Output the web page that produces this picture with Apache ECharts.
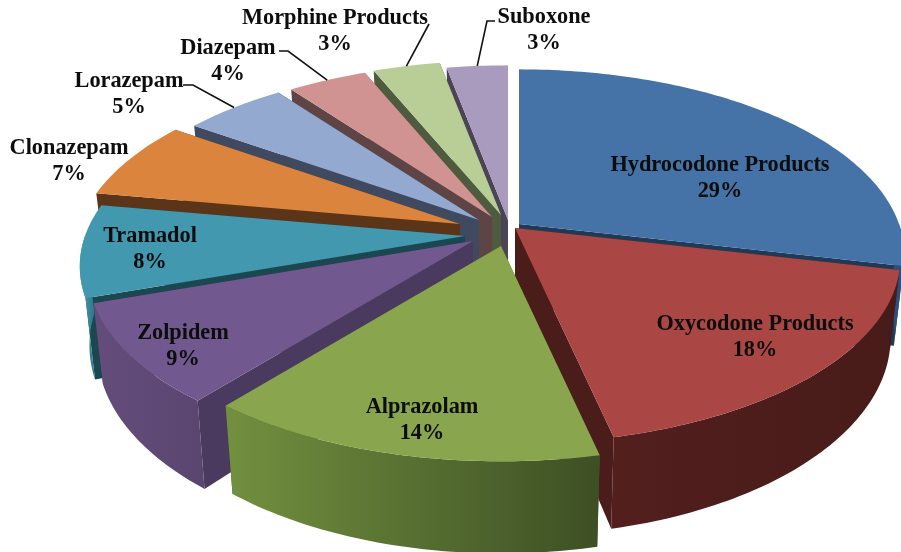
<!DOCTYPE html>
<html>
<head>
<meta charset="utf-8">
<style>html,body{margin:0;padding:0;background:#fff}#c{width:901px;height:552px}</style>
<script src="https://cdn.jsdelivr.net/npm/echarts@6/dist/echarts.min.js"></script>
</head>
<body>
<div id="c"></div>
<script>
// Data (percent shares; labels show them rounded)
const categories = ['Hydrocodone Products','Oxycodone Products','Alprazolam','Zolpidem','Tramadol','Clonazepam','Lorazepam','Diazepam','Morphine Products','Suboxone'];
const values = [28.6,17.9,14.4,8.8,8.1,6.9,5.1,3.9,3.3,3.0];

// Style
const topColors  = ['#4572A7','#AA4643','#89A54E','#71588F','#4198AF','#DB843D','#93A9CF','#D19392','#B9CD96','#A99BBD'];
const cutColors  = ['#1F3A57','#4A1C1A','#4A5C2A','#4B3A60','#1B4751','#5C3417','#3F4A60','#5E4444','#4F5B3E','#4A4456'];
const wallLeft   = ['#2D4F7C','#521F1D','#72903F','#644D7C','#46A0B8','#8A5326','#5B6B85','#8A5E5D','#73825D','#6B6278'];
const wallRight  = ['#2D4F7C','#471B19','#3D4F24','#5A4570','#2F7488','#8A5326','#5B6B85','#8A5E5D','#73825D','#6B6278'];

// Layout: painter's order, the shift of each exploded slice, and label placement
const drawOrder = [9,8,7,6,5,4,3,0,1,2];
const sliceShift = [[519,224],[515,228],[501,246],[473,241],[465,236],[460,224],[479,220],[492,217],[501,215],[508,220]];
const labelPos = [[720,163],[755,322],[422,405],[183,331],[150,234],[69,146],[129,79],[228,46],[335,16],[544,15]];
const leaderElbows = {6:[[183,85],[193,85]],7:[[279,51],[288,51]],8:[[429,24]],9:[[495,21],[487,21]]};
const R = 380, RK = 180, PERSP = 0.164, DEPTH = 77, SHRINK = 0.975, LINE_H = 26, TEXT_DY = 2;
const HALF_PI = Math.PI/2;

const total = values.reduce((a,b)=>a+b,0);
const starts = []; values.reduce((acc,v,i)=>{starts[i]=acc;return acc+v;},0);
const angle = f => f/total*2*Math.PI;

function topPt(i,t){
  const s = 1/(1+PERSP*Math.cos(t));
  return [sliceShift[i][0]+R*Math.sin(t)*s, sliceShift[i][1]-RK*Math.cos(t)*s];
}
function botPt(i,t){
  const s = 1/(1+PERSP*Math.cos(t));
  return [sliceShift[i][0]+SHRINK*R*Math.sin(t)*s, sliceShift[i][1]-RK*Math.cos(t)*s+DEPTH*s];
}
function rim(i,fn,a0,a1){
  const n = Math.max(2,Math.ceil((a1-a0)/(Math.PI/180)));
  const out = [];
  for(let k=0;k<=n;k++) out.push(fn(i,a0+(a1-a0)*k/n));
  return out;
}

function renderItem(params, api){
  const i = params.dataIndex;
  const a0 = angle(starts[i]), a1 = angle(starts[i]+api.value(0));
  const order = drawOrder.indexOf(i);
  const base = 10+order*10;
  const apex = sliceShift[i];
  const apexBot = [apex[0],apex[1]+DEPTH];
  const topRim = rim(i,topPt,a0,a1);
  const children = [];
  const poly = (pts,fill,z)=>({type:'polygon',silent:true,z2:z,shape:{points:pts},style:{fill:fill,stroke:null}});
  children.push(poly([apex,topPt(i,a0),botPt(i,a0),apexBot],cutColors[i],base));
  children.push(poly([apex,topPt(i,a1),botPt(i,a1),apexBot],cutColors[i],base));
  // the curved outer wall only shows on the half of the pie that faces the viewer
  const w0 = Math.max(a0,HALF_PI), w1 = Math.min(a1,3*HALF_PI);
  if(w1>w0){
    const wallTop = rim(i,topPt,w0,w1), wallBot = rim(i,botPt,w0,w1);
    children.push(poly(wallTop.concat(wallBot.slice().reverse()),
      new echarts.graphic.LinearGradient(0,0,1,0,[{offset:0,color:wallLeft[i]},{offset:1,color:wallRight[i]}]),base+1));
  }
  children.push(poly([apex].concat(topRim),topColors[i],base+2));
  // label
  const p = labelPos[i];
  [categories[i], Math.round(api.value(0))+'%'].forEach((t,k)=>{
    children.push({type:'text',silent:true,z2:500,style:{
      text:t,x:p[0],y:p[1]+TEXT_DY+k*LINE_H,align:'center',verticalAlign:'middle',
      font:'bold 22.3px "Liberation Serif"',fill:'#0d0d0d'}});
  });
  // leader line to the middle of the slice's rim
  if(leaderElbows[i]){
    const end = topPt(i,(a0+a1)/2);
    children.push({type:'polyline',silent:true,z2:400,shape:{points:leaderElbows[i].concat([end])},
      style:{fill:null,stroke:'#111',lineWidth:1.6}});
  }
  return {type:'group',children};
}

const chart = echarts.init(document.getElementById('c'),null,{renderer:'canvas'});
chart.setOption({
  animation:false,
  backgroundColor:'#fff',
  series:[{type:'custom',coordinateSystem:'none',silent:true,clip:false,
    data:values.map((v,i)=>({name:categories[i],value:[v]})),
    renderItem:renderItem}]
});
</script>
</body>
</html>
